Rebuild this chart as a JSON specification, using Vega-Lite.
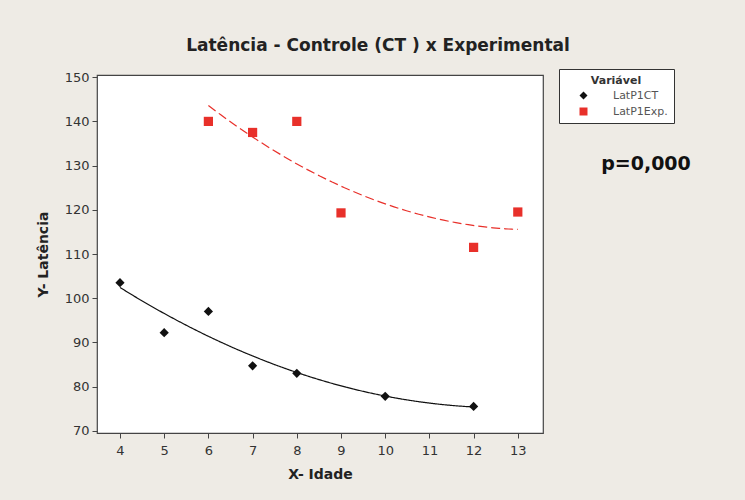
{
  "$schema": "https://vega.github.io/schema/vega-lite/v6.json",
  "width": 446,
  "height": 358,
  "autosize": {"type": "none"},
  "padding": {"left": 97, "top": 75, "right": 202, "bottom": 67},
  "background": "#eeebe5",
  "title": {
    "text": "Latência - Controle (CT ) x Experimental",
    "font": "DejaVu Sans",
    "fontSize": 17,
    "fontWeight": "bold",
    "color": "#222222",
    "anchor": "middle",
    "dx": 58,
    "offset": 14
  },
  "datasets": {
    "pts": [
      {"idade": 4, "latencia": 103.5, "serie": "LatP1CT"},
      {"idade": 5, "latencia": 92.2, "serie": "LatP1CT"},
      {"idade": 6, "latencia": 97.0, "serie": "LatP1CT"},
      {"idade": 7, "latencia": 84.7, "serie": "LatP1CT"},
      {"idade": 8, "latencia": 83.0, "serie": "LatP1CT"},
      {"idade": 10, "latencia": 77.8, "serie": "LatP1CT"},
      {"idade": 12, "latencia": 75.5, "serie": "LatP1CT"},
      {"idade": 6, "latencia": 140.0, "serie": "LatP1Exp."},
      {"idade": 7, "latencia": 137.5, "serie": "LatP1Exp."},
      {"idade": 8, "latencia": 140.0, "serie": "LatP1Exp."},
      {"idade": 9, "latencia": 119.3, "serie": "LatP1Exp."},
      {"idade": 12, "latencia": 111.5, "serie": "LatP1Exp."},
      {"idade": 13, "latencia": 119.5, "serie": "LatP1Exp."}
    ],
    "note": [{"idade": 15.9, "latencia": 130.4, "label": "p=0,000"}]
  },
  "config": {
    "view": {"stroke": "#444444", "strokeWidth": 1.2, "fill": "white"},
    "axis": {
      "labelFont": "DejaVu Sans",
      "labelFontSize": 13,
      "labelColor": "#333333",
      "titleFont": "DejaVu Sans",
      "titleFontSize": 14,
      "titleFontWeight": "bold",
      "titleColor": "#222222",
      "tickColor": "#444444",
      "tickSize": 5,
      "domain": false,
      "grid": false
    }
  },
  "layer": [
    {
      "data": {"name": "pts"},
      "transform": [
        {"regression": "latencia", "on": "idade", "groupby": ["serie"], "method": "poly", "order": 2}
      ],
      "mark": {"type": "line", "strokeWidth": 1.2},
      "encoding": {
        "x": {"field": "idade", "type": "quantitative"},
        "y": {"field": "latencia", "type": "quantitative"},
        "color": {"field": "serie", "type": "nominal"},
        "strokeDash": {"field": "serie", "type": "nominal", "legend": null,
          "scale": {"domain": ["LatP1CT", "LatP1Exp."], "range": [[1, 0], [9, 4]]}}
      }
    },
    {
      "data": {"name": "pts"},
      "mark": {"type": "point", "filled": true, "opacity": 1},
      "encoding": {
        "x": {
          "field": "idade", "type": "quantitative",
          "scale": {"domain": [3.48, 13.57], "nice": false, "zero": false},
          "axis": {"values": [4, 5, 6, 7, 8, 9, 10, 11, 12, 13], "title": "X- Idade", "titlePadding": 10, "labelPadding": 6}
        },
        "y": {
          "field": "latencia", "type": "quantitative",
          "scale": {"domain": [69.5, 150.5], "nice": false, "zero": false},
          "axis": {"values": [70, 80, 90, 100, 110, 120, 130, 140, 150], "title": "Y- Latência", "titlePadding": 14, "labelPadding": 3}
        },
        "color": {"field": "serie", "type": "nominal",
          "scale": {"domain": ["LatP1CT", "LatP1Exp."], "range": ["#111111", "#e8302a"]},
          "legend": {
            "title": "Variável",
            "orient": "none",
            "legendX": 462,
            "legendY": -6,
            "direction": "vertical",
            "fillColor": "white",
            "strokeColor": "#333333",
            "padding": 6,
            "titleFont": "DejaVu Sans",
            "titleFontSize": 11,
            "titleFontWeight": "bold",
            "titleColor": "#333333",
            "titleAnchor": "middle",
            "titlePadding": 4,
            "labelFont": "DejaVu Sans",
            "labelFontSize": 11,
            "labelColor": "#555555",
            "symbolSize": 64,
            "symbolOffset": 13,
            "labelOffset": 24,
            "symbolDash": [1, 0],
            "symbolStrokeWidth": 0,
            "rowPadding": 4,
            "labelLimit": 300
          }
        },
        "shape": {"field": "serie", "type": "nominal",
          "scale": {"domain": ["LatP1CT", "LatP1Exp."], "range": ["diamond", "square"]}},
        "size": {"value": 85}
      }
    },
    {
      "data": {"name": "note"},
      "mark": {"type": "text", "font": "DejaVu Sans", "fontSize": 19, "fontWeight": "bold", "color": "#111111", "align": "center", "baseline": "middle"},
      "encoding": {
        "x": {"field": "idade", "type": "quantitative"},
        "y": {"field": "latencia", "type": "quantitative"},
        "text": {"field": "label"}
      }
    }
  ]
}
